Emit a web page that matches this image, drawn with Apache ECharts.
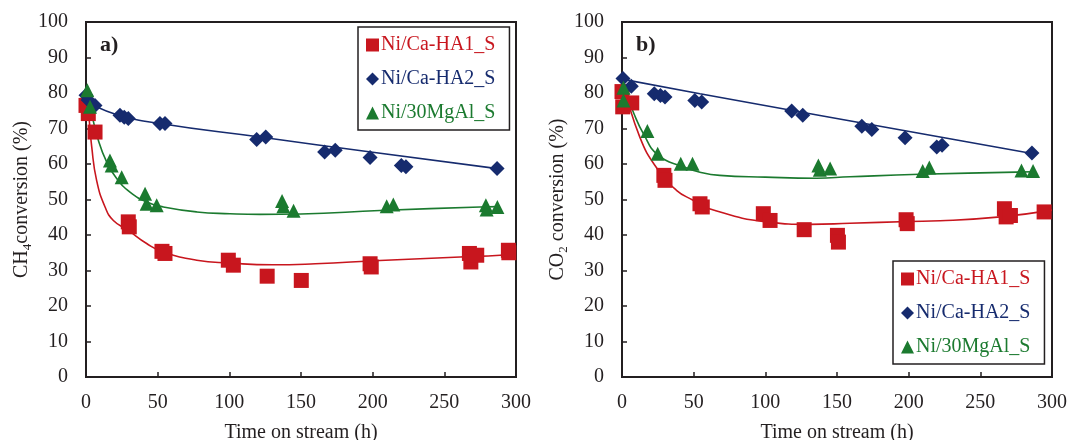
<!DOCTYPE html>
<html>
<head>
<meta charset="utf-8">
<script src="https://cdn.jsdelivr.net/npm/echarts@6/dist/echarts.min.js"></script>
<style>
	html, body { margin: 0; padding: 0; background: #fff; }
	#chart { width: 1069px; height: 440px; }
</style>
</head>
<body>
<div id="chart"></div>
<script>
	// 标签
	var names = ['Ni/Ca-HA1_S', 'Ni/Ca-HA2_S', 'Ni/30MgAl_S'];
	var xTicks = [0, 300, 50];
	var yTicks = [0, 100, 10];

	// a) CH4 conversion, [h, %]
	var ha1A = [[0, 76.5], [1.6, 74.2], [6.3, 69.0], [29.5, 43.7], [30.2, 42.3], [53, 35.4], [55.1, 34.8],
		[99.3, 32.9], [102.8, 31.5], [126.4, 28.4], [150.2, 27.2], [198.2, 31.9], [199, 31.0],
		[267.5, 34.8], [268.5, 32.4], [272.6, 34.3], [294.7, 35.7], [295, 35.0]];
	var ha2A = [[0, 79.4], [1.5, 78.0], [6.3, 76.5], [23.7, 73.7], [26.7, 73.2], [29.5, 72.8], [51.6, 71.4],
		[55.1, 71.4], [119.1, 66.9], [125.4, 67.6], [166.5, 63.4], [173.9, 63.9], [198.2, 61.8],
		[220, 59.6], [223.2, 59.2], [286.8, 58.7]];
	var mgalA = [[0.9, 80.8], [2.8, 76.1], [16.7, 61.0], [17.9, 59.6], [24.9, 56.3], [41.2, 51.6], [42.3, 48.8],
		[49.3, 48.4], [136.8, 49.6], [137.7, 48.1], [144.8, 46.8], [209.8, 48.1], [214.4, 48.6],
		[279, 48.4], [279.5, 47.2], [287, 47.9]];
	// 拟合曲线 a
	var ha1FitA = [[0.5, 77], [1.6, 75], [4, 64.8], [7.4, 55.4], [13.3, 47.9], [19.1, 44.1], [29.5, 41.3],
		[42.3, 37.6], [54, 35.2], [77.3, 32.9], [100.5, 32.1], [130, 31.6], [160, 31.9], [205, 32.8],
		[261, 33.8], [289, 34.3], [300, 34.8]];
	var ha2FitA = [[0, 77.9], [19.1, 74.2], [51.6, 71.4], [121.4, 67.6], [200, 63.3], [287, 58.7]];
	var mgalFitA = [[0.9, 80.8], [4, 74.2], [8.6, 66.7], [14.4, 60.6], [21.4, 55.9], [30.7, 52.1], [42.3, 49.3],
		[54, 47.9], [77.3, 46.5], [100.5, 46.0], [121.4, 45.8], [150, 45.9], [205, 46.9], [275, 47.9],
		[287, 48.0]];

	// b) CO2 conversion
	var ha1B = [[0, 80.4], [0.5, 76.1], [6.8, 77.2], [29.2, 56.8], [30, 55.4], [54.4, 48.8], [56, 47.9],
		[98.6, 46.0], [103.3, 44.1], [127.1, 41.5], [150.3, 39.9], [151, 38.0], [198.2, 44.3], [199, 43.2],
		[266.8, 47.4], [268, 45.1], [271, 45.5], [294.5, 46.5]];
	var ha2B = [[0.7, 84.1], [6.5, 81.9], [22.5, 79.8], [26.8, 79.3], [30, 78.9], [50.8, 77.9], [55.6, 77.5],
		[118.4, 74.9], [126.1, 73.7], [167.3, 70.6], [174.3, 69.7], [197.5, 67.4], [219.6, 64.8],
		[223.3, 65.3], [286, 63.1]];
	var mgalB = [[1, 81.5], [1, 77.9], [17.7, 69.3], [24.9, 62.9], [41, 60.1], [49.2, 60.1], [137, 59.6],
		[138, 58.4], [145.2, 58.7], [209.8, 58.0], [214.4, 59.0], [278.7, 58.2], [286.8, 58.0]];
	// 拟合曲线 b
	var ha1FitB = [[1.2, 82.7], [12.3, 67.7], [25.2, 58.3], [38, 52.6], [49.6, 49.8], [61, 47.4], [101, 43.7],
		[131.2, 43.0], [159, 43.3], [200, 43.8], [222, 44.0], [264, 45.1], [300, 47.0]];
	var ha2FitB = [[0, 83.9], [54.4, 79.8], [221.9, 67.6], [287, 62.9]];
	var mgalFitB = [[0.7, 82.2], [8, 74.5], [15, 68.5], [25.2, 62.5], [42.7, 59.2], [54.4, 57.7], [68.2, 56.8],
		[100, 56.3], [135.8, 56.0], [159, 56.4], [208, 57.1], [275, 57.7], [287, 57.8]];

	var colors = ['#C8161E', '#162B6E', '#1B7A2F'];
	var symbols = ['rect', 'diamond', 'triangle'];
	var sizes = [15, 15, 14];
	var font = 'Liberation Serif';
	var ink = '#231F20';

	function xAxis(idx) {
		return {
			gridIndex: idx, type: 'value', min: xTicks[0], max: xTicks[1], interval: xTicks[2],
			name: 'Time on stream (h)', nameLocation: 'middle', nameGap: 46,
			nameTextStyle: { fontFamily: font, fontSize: 20, color: ink },
			axisLine: { lineStyle: { color: ink, width: 2 } },
			axisTick: { inside: true, length: 5, lineStyle: { color: ink, width: 1.5 } },
			axisLabel: { margin: 16, fontFamily: font, fontSize: 20, color: ink },
			splitLine: { show: false }
		};
	}
	function yAxis(idx, sub, rest) {
		return {
			gridIndex: idx, type: 'value', min: yTicks[0], max: yTicks[1], interval: yTicks[2],
			name: '{t|' + (idx === 0 ? 'CH' : 'CO') + '}{s|' + sub + '}{t|' + rest + '}',
			nameLocation: 'middle', nameGap: 50, nameRotate: 90,
			nameTextStyle: {
				color: ink,
				rich: {
					t: { fontFamily: font, fontSize: 20, color: ink, lineHeight: 24 },
					s: { fontFamily: font, fontSize: 13, color: ink, lineHeight: 12, verticalAlign: 'bottom' }
				}
			},
			axisLine: { lineStyle: { color: ink, width: 2 } },
			axisTick: { inside: true, length: 5, lineStyle: { color: ink, width: 1.5 } },
			axisLabel: { margin: 18, fontFamily: font, fontSize: 20, color: ink },
			splitLine: { show: false }
		};
	}
	function scatter(i, idx, data) {
		return {
			name: names[i], type: 'scatter', xAxisIndex: idx, yAxisIndex: idx, data: data,
			symbol: symbols[i], symbolSize: sizes[i], clip: false, z: 3,
			itemStyle: { color: colors[i], opacity: 1 }
		};
	}
	function fit(i, idx, data) {
		return {
			name: 'fit' + i + '_' + idx, type: 'line', xAxisIndex: idx, yAxisIndex: idx, data: data,
			smooth: true, showSymbol: false, z: 2, silent: true,
			lineStyle: { color: colors[i], width: 1.6 }
		};
	}
	function legend(left, top) {
		return {
			orient: 'vertical', left: left, top: top, itemWidth: 13, itemHeight: 13, itemGap: 14,
			padding: [8, 14, 7, 8], borderColor: ink, borderWidth: 1.5,
			textStyle: { fontFamily: font, fontSize: 20, lineHeight: 20, padding: [0, 0, 0, -3] },
			selectedMode: false,
			data: names.map(function (n, i) {
				return { name: n, icon: symbols[i], itemStyle: { color: colors[i] }, textStyle: { color: colors[i] } };
			})
		};
	}

	var chart = echarts.init(document.getElementById('chart'));
	chart.setOption({
		animation: false,
		title: [
			{ text: 'a)', left: 100, top: 34, padding: 0, textStyle: { fontFamily: font, fontSize: 22, fontWeight: 'bold', color: ink } },
			{ text: 'b)', left: 636, top: 34, padding: 0, textStyle: { fontFamily: font, fontSize: 22, fontWeight: 'bold', color: ink } }
		],
		grid: [
			{ left: 86, top: 22, width: 430, height: 355, show: true, borderColor: ink, borderWidth: 2, outerBoundsMode: 'none', containLabel: false },
			{ left: 622, top: 22, width: 430, height: 355, show: true, borderColor: ink, borderWidth: 2, outerBoundsMode: 'none', containLabel: false }
		],
		legend: [legend(358, 27), legend(893, 261)],
		xAxis: [xAxis(0), xAxis(1)],
		yAxis: [yAxis(0, '4', 'conversion (%)'), yAxis(1, '2', ' conversion (%)')],
		series: [
			fit(0, 0, ha1FitA), fit(1, 0, ha2FitA), fit(2, 0, mgalFitA),
			scatter(0, 0, ha1A), scatter(1, 0, ha2A), scatter(2, 0, mgalA),
			fit(0, 1, ha1FitB), fit(1, 1, ha2FitB), fit(2, 1, mgalFitB),
			scatter(0, 1, ha1B), scatter(1, 1, ha2B), scatter(2, 1, mgalB)
		]
	});
</script>
</body>
</html>
